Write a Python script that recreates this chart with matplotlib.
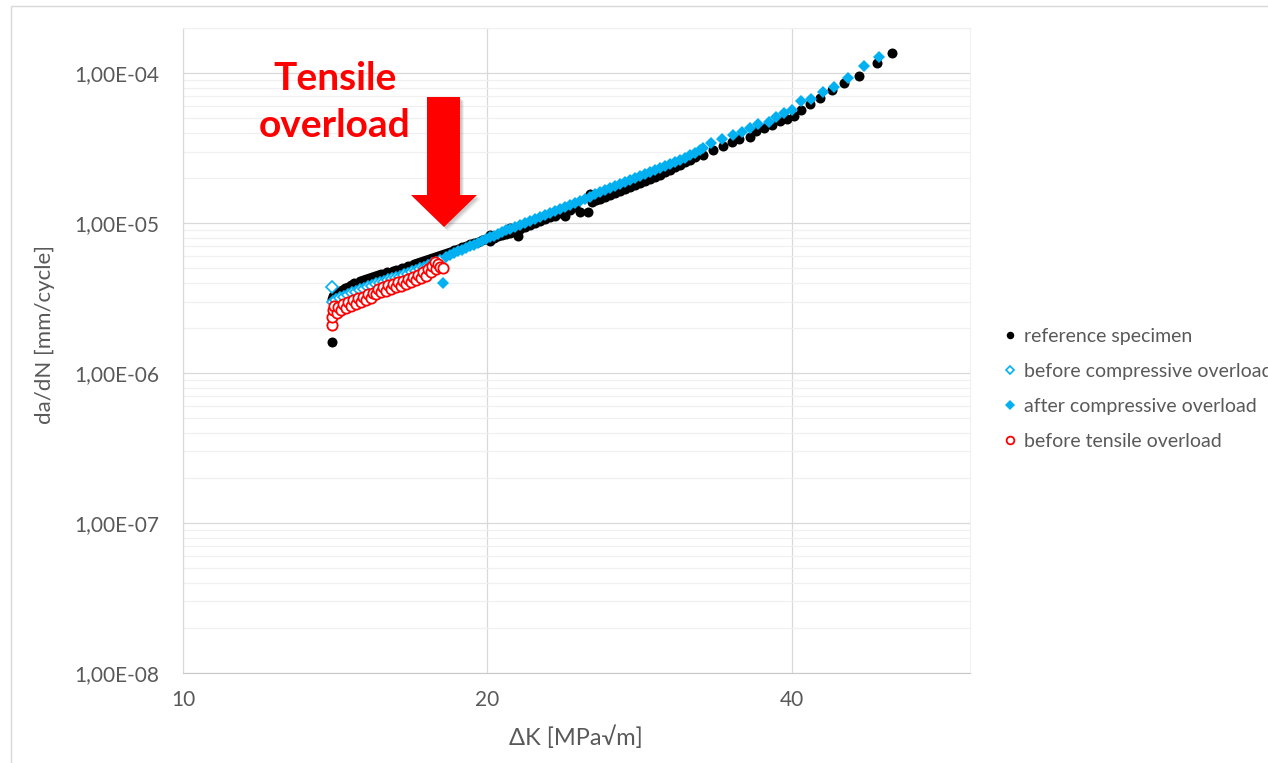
import numpy as np
import matplotlib
matplotlib.use('Agg')
import matplotlib.pyplot as plt
from matplotlib.ticker import FixedLocator, LogLocator, FuncFormatter, NullLocator, NullFormatter
from matplotlib.patches import Polygon, Rectangle

plt.rcParams['font.family'] = ['Lato', 'DejaVu Sans']

# reference specimen
ref_dk = [14.03, 14.04, 14.07, 14.17, 14.27, 14.36, 14.46, 14.56, 14.66, 14.76, 14.86, 14.96,
          15.06, 15.17, 15.27, 15.38, 15.48, 15.59, 15.70, 15.80, 15.91, 16.02, 16.13, 16.24,
          16.35, 16.46, 16.58, 16.69, 16.80, 16.92, 17.04, 17.15, 17.27, 17.39, 17.51, 17.63,
          17.75, 17.87, 17.99, 18.11, 18.24, 18.36, 18.53, 18.70, 18.87, 19.04, 19.22, 19.40,
          19.57, 19.75, 19.93, 20.11, 20.11, 20.30, 20.48, 20.67, 20.86, 21.05, 21.05, 21.24,
          21.44, 21.53, 21.78, 22.03, 22.28, 22.54, 22.80, 23.06, 23.32, 23.59, 23.86, 24.13,
          24.40, 24.68, 25.14, 25.25, 25.37, 25.60, 25.83, 26.13, 26.43, 26.73, 27.04, 27.35,
          27.66, 27.98, 28.30, 28.62, 28.95, 29.28, 29.61, 29.95, 30.29, 30.65, 30.99, 31.36,
          31.70, 32.07, 32.7, 33.4, 34.2, 34.9, 35.5, 36.4, 36.9, 37.5, 38.2, 38.9, 39.6, 40.2,
          40.8, 41.7, 42.6, 43.8, 45.0, 46.6, 48.5, 50.2]
ref_dadn = [1.62e-6, 3.13e-6, 3.28e-6, 3.38e-6, 3.48e-6, 3.59e-6, 3.70e-6, 3.76e-6, 3.88e-6,
            4.00e-6, 3.94e-6, 4.13e-6, 4.19e-6, 4.25e-6, 4.32e-6, 4.38e-6, 4.45e-6, 4.52e-6,
            4.59e-6, 4.59e-6, 4.73e-6, 4.66e-6, 4.81e-6, 4.88e-6, 4.88e-6, 5.03e-6, 5.03e-6,
            5.19e-6, 5.19e-6, 5.35e-6, 5.43e-6, 5.52e-6, 5.60e-6, 5.69e-6, 5.78e-6, 5.87e-6,
            5.96e-6, 6.05e-6, 6.15e-6, 6.24e-6, 6.34e-6, 6.44e-6, 6.64e-6, 6.74e-6, 6.95e-6,
            7.06e-6, 7.28e-6, 7.40e-6, 7.51e-6, 7.74e-6, 7.86e-6, 8.36e-6, 7.62e-6, 7.98e-6,
            8.23e-6, 8.36e-6, 8.49e-6, 9.30e-6, 8.62e-6, 8.88e-6, 8.23e-6, 9.16e-6, 9.45e-6,
            9.74e-6, 1.005e-5, 1.036e-5, 1.069e-5, 1.10e-5, 1.12e-5, 1.16e-5, 1.12e-5, 1.23e-5,
            1.28e-5, 1.18e-5, 1.19e-5, 1.565e-5, 1.39e-5, 1.43e-5, 1.45e-5, 1.50e-5, 1.54e-5,
            1.59e-5, 1.64e-5, 1.69e-5, 1.74e-5, 1.80e-5, 1.85e-5, 1.91e-5, 1.97e-5, 2.04e-5,
            2.10e-5, 2.20e-5, 2.27e-5, 2.38e-5, 2.45e-5, 2.56e-5, 2.64e-5, 2.77e-5, 2.85e-5,
            3.08e-5, 3.28e-5, 3.50e-5, 3.65e-5, 3.78e-5, 4.14e-5, 4.30e-5, 4.52e-5, 4.76e-5,
            4.93e-5, 5.19e-5, 5.69e-5, 6.24e-5, 6.81e-5, 7.74e-5, 8.66e-5, 9.64e-5, 1.177e-4,
            1.36e-4]

# before compressive overload
bco_dk = [14.05, 14.07, 14.17, 14.30, 14.43, 14.56, 14.69, 14.83, 14.96, 15.10, 15.24, 15.38,
          15.52, 15.66, 15.80, 15.95, 16.09, 16.24, 16.39, 16.54, 16.69, 16.84, 17.00, 17.15,
          17.31, 17.47, 17.63, 17.79, 17.95]
bco_dadn = [3.74e-6, 2.99e-6, 3.08e-6, 3.17e-6, 3.22e-6, 3.33e-6, 3.43e-6, 3.48e-6, 3.59e-6,
            3.65e-6, 3.76e-6, 3.82e-6, 3.94e-6, 4.00e-6, 4.07e-6, 4.19e-6, 4.25e-6, 4.32e-6,
            4.38e-6, 4.52e-6, 4.59e-6, 4.73e-6, 4.81e-6, 4.95e-6, 5.03e-6, 5.19e-6, 5.35e-6,
            5.43e-6, 5.60e-6]

# after compressive overload
aco_dk = [18.09, 18.20, 18.36, 18.53, 18.70, 18.87, 19.04, 19.22, 19.40, 19.57, 19.75, 19.93,
          20.11, 20.30, 20.48, 20.67, 20.86, 21.05, 21.29, 21.53, 21.78, 22.03, 22.28, 22.54,
          22.80, 23.06, 23.32, 23.59, 23.86, 24.13, 24.40, 24.68, 24.97, 25.25, 25.54, 25.83,
          26.13, 26.43, 26.73, 27.04, 27.35, 27.66, 27.98, 28.30, 28.62, 28.95, 29.28, 29.61,
          29.95, 30.29, 30.65, 30.99, 31.36, 31.70, 32.07, 32.43, 32.7, 33.3, 34.1, 35.0, 35.7,
          36.4, 37.0, 38.0, 38.6, 39.3, 40.0, 40.8, 41.8, 42.9, 44.0, 45.4, 47.1, 48.8]
aco_dadn = [3.98e-6, 5.96e-6, 6.15e-6, 6.34e-6, 6.54e-6, 6.64e-6, 6.85e-6, 7.06e-6, 7.17e-6,
            7.39e-6, 7.62e-6, 7.86e-6, 8.11e-6, 8.23e-6, 8.49e-6, 8.75e-6, 9.02e-6, 9.16e-6,
            9.45e-6, 9.74e-6, 1.004e-5, 1.036e-5, 1.068e-5, 1.10e-5, 1.14e-5, 1.17e-5, 1.21e-5,
            1.25e-5, 1.28e-5, 1.32e-5, 1.36e-5, 1.41e-5, 1.45e-5, 1.50e-5, 1.56e-5, 1.61e-5,
            1.67e-5, 1.72e-5, 1.77e-5, 1.83e-5, 1.88e-5, 1.94e-5, 2.00e-5, 2.07e-5, 2.13e-5,
            2.20e-5, 2.27e-5, 2.34e-5, 2.41e-5, 2.49e-5, 2.56e-5, 2.64e-5, 2.73e-5, 2.85e-5,
            2.94e-5, 3.08e-5, 3.16e-5, 3.41e-5, 3.63e-5, 3.88e-5, 4.02e-5, 4.30e-5, 4.59e-5,
            4.69e-5, 5.09e-5, 5.41e-5, 5.69e-5, 6.53e-5, 6.71e-5, 7.54e-5, 8.14e-5, 9.26e-5,
            1.119e-4, 1.29e-4]

# before tensile overload
bto_dk = [14.05, 14.05, 14.07, 14.10, 14.20, 14.23, 14.33, 14.39, 14.49, 14.56, 14.66, 14.73,
          14.83, 14.89, 15.00, 15.06, 15.17, 15.24, 15.34, 15.41, 15.52, 15.59, 15.70, 15.77,
          15.87, 15.95, 16.06, 16.13, 16.24, 16.31, 16.43, 16.50, 16.61, 16.69, 16.80, 16.88,
          17.00, 17.08, 17.19, 17.27, 17.39, 17.47, 17.59, 17.63, 17.75, 17.79, 17.87, 17.95,
          18.07]
bto_dadn = [2.10e-6, 2.38e-6, 2.64e-6, 2.81e-6, 2.53e-6, 2.76e-6, 2.64e-6, 2.89e-6, 2.72e-6,
            2.99e-6, 2.81e-6, 3.08e-6, 2.89e-6, 3.17e-6, 2.99e-6, 3.22e-6, 3.08e-6, 3.38e-6,
            3.17e-6, 3.43e-6, 3.38e-6, 3.65e-6, 3.48e-6, 3.76e-6, 3.54e-6, 3.88e-6, 3.65e-6,
            3.94e-6, 3.76e-6, 4.07e-6, 3.82e-6, 4.13e-6, 3.94e-6, 4.25e-6, 4.07e-6, 4.38e-6,
            4.19e-6, 4.52e-6, 4.32e-6, 4.73e-6, 4.45e-6, 4.95e-6, 4.73e-6, 5.19e-6, 5.52e-6,
            4.95e-6, 5.35e-6, 5.11e-6, 5.01e-6]

xticks = [10, 20, 40]
labels = ['reference specimen', 'before compressive overload',
          'after compressive overload', 'before tensile overload']

W, H = 1268, 763
fig = plt.figure(figsize=(W / 100, H / 100), dpi=100)
ax = fig.add_axes([183 / W, 1 - 673 / H, 787 / W, 645 / H])

blue = '#00b0f0'
gray = '#595959'

ax.plot(ref_dk, ref_dadn, 'o', color='black', ms=7.2, mew=0, zorder=3, label=labels[0])
ax.plot(bco_dk, bco_dadn, 'D', mfc='white', mec=blue, ms=5.8, mew=1.2, zorder=4, label=labels[1])
ax.plot(aco_dk, aco_dadn, 'D', color=blue, ms=6.4, mew=0, zorder=5, label=labels[2])
ax.plot(bto_dk, bto_dadn, 'o', mfc='white', mec='#ff0000', ms=7.4, mew=1.3, zorder=6, label=labels[3])

ax.set_xscale('log', base=2)
ax.set_yscale('log')
ax.set_xlim(10, 60)
ax.set_ylim(1e-8, 2e-4)

ax.xaxis.set_major_locator(FixedLocator(xticks))
ax.xaxis.set_minor_locator(NullLocator())
ax.xaxis.set_major_formatter(FuncFormatter(lambda v, p: f"{v:g}"))
ax.yaxis.set_major_locator(LogLocator(base=10, numticks=12))
ax.yaxis.set_minor_locator(LogLocator(base=10, subs=np.arange(2, 10), numticks=40))
ax.yaxis.set_minor_formatter(NullFormatter())
ax.yaxis.set_major_formatter(FuncFormatter(lambda v, p: f"{v:.2E}".replace('.', ',')))

ax.tick_params(which='both', length=0, colors=gray, labelsize=15)
ax.tick_params(axis='x', pad=12)
ax.tick_params(axis='y', pad=17)

ax.set_axisbelow(True)
ax.grid(which='major', axis='both', color='#d9d9d9', lw=0.9)
ax.grid(which='minor', axis='y', color='#f0f0f0', lw=0.9)
ax.spines['left'].set_color('#d9d9d9')
ax.spines['bottom'].set_color('#c8c8c8')
ax.spines['top'].set_color('#f0f0f0')
ax.spines['right'].set_color('#f0f0f0')

fig.text(45 / W, 1 - 335 / H, 'da/dN [mm/cycle]', rotation=90, ha='center', va='center',
         fontsize=16, color=gray)
fig.text(576 / W, 1 - 737 / H, 'ΔK [MPa√m]', ha='center', va='center', fontsize=17, color=gray)

# annotation
fig.text(335 / W, 1 - 102 / H, 'Tensile\noverload', ha='center', va='center', color='#ff0000',
         fontsize=28, fontweight='bold', linespacing=1.42)

arrow_px = [(427, 97), (460, 97), (460, 195), (477, 195), (444, 227), (411, 195), (427, 195)]
for dx, dy, a in [(4, 4, 0.05), (3, 3, 0.07), (2, 2, 0.09)]:
    pts = [((x + dx) / W, 1 - (y + dy) / H) for x, y in arrow_px]
    fig.patches.append(Polygon(pts, closed=True, transform=fig.transFigure, fc='black',
                               ec='none', alpha=a, zorder=1))
pts = [(x / W, 1 - y / H) for x, y in arrow_px]
fig.patches.append(Polygon(pts, closed=True, transform=fig.transFigure, fc='#ff0000',
                           ec='none', zorder=2))

# chart frame
fig.patches.append(Rectangle((11 / W, -0.1), 2, 1.1 - 6 / H, transform=fig.transFigure,
                             fill=False, ec='#d9d9d9', lw=1))

leg = fig.legend(loc='center left', bbox_to_anchor=(1003 / W, 1 - 389 / H), frameon=False,
                 fontsize=14, labelcolor=gray, handlelength=0.7, handletextpad=0.4,
                 labelspacing=0.93, markerscale=0.75, borderpad=0, borderaxespad=0)

fig.savefig('out.png', dpi=100)
